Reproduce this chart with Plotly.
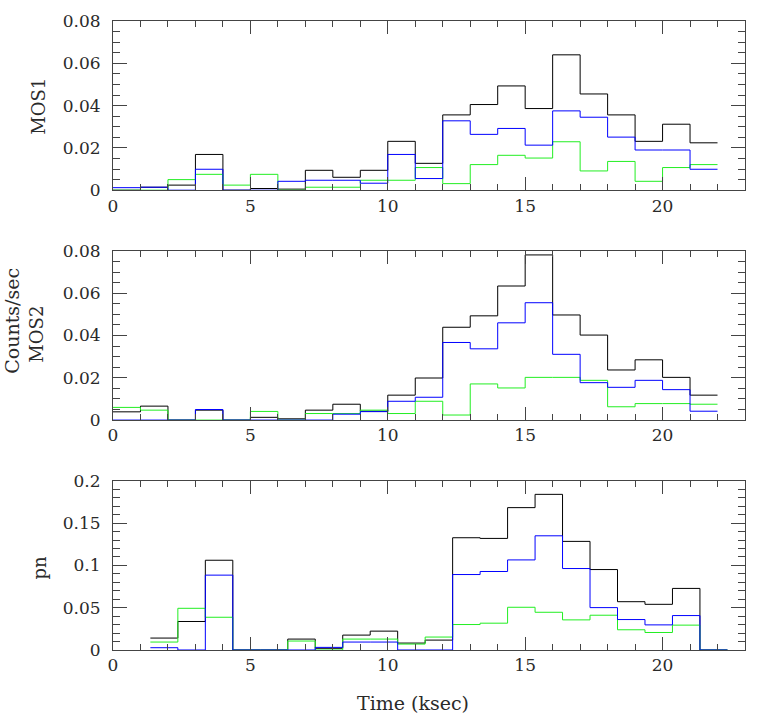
import plotly.graph_objects as go

# ---------------- data ----------------
mos_edges = list(range(0, 23))            # bins 0..22 ksec (width 1)
pn_edges = [k + 0.36 for k in range(1, 23)]  # bins 1.36..22.36 ksec

mos1_black = [0.0, 0.0014, 0.0024, 0.0169, 0.0, 0.0008, 0.0005, 0.0094, 0.0061, 0.0094, 0.0231,
              0.0127, 0.0356, 0.0405, 0.0493, 0.0386, 0.0640, 0.0455, 0.0356, 0.0231, 0.0312, 0.0224]
mos1_blue = [0.0012, 0.0014, 0.0, 0.0099, 0.0, 0.0, 0.0042, 0.0047, 0.0047, 0.0033, 0.0169,
             0.0055, 0.0328, 0.0264, 0.0292, 0.0213, 0.0375, 0.0345, 0.0251, 0.0190, 0.0190, 0.0099]
mos1_green = [0.0, 0.0, 0.0050, 0.0075, 0.0024, 0.0075, 0.0, 0.0014, 0.0014, 0.0047, 0.0047,
              0.0107, 0.0031, 0.0121, 0.0165, 0.0152, 0.0229, 0.0091, 0.0136, 0.0042, 0.0107, 0.0121]

mos2_black = [0.0039, 0.0066, 0.0, 0.0047, 0.0, 0.0013, 0.0006, 0.0047, 0.0075, 0.0042, 0.0118,
              0.0199, 0.0439, 0.0493, 0.0634, 0.0781, 0.0497, 0.0402, 0.0237, 0.0285, 0.0202, 0.0118]
mos2_blue = [0.0, 0.0, 0.0, 0.0050, 0.0, 0.0, 0.0, 0.0, 0.0028, 0.0040, 0.0089,
             0.0108, 0.0367, 0.0337, 0.0460, 0.0555, 0.0311, 0.0177, 0.0155, 0.0188, 0.0144, 0.0042]
mos2_green = [0.0060, 0.0047, 0.0, 0.0, 0.0, 0.0041, 0.0, 0.0031, 0.0031, 0.0047, 0.0031,
              0.0089, 0.0024, 0.0171, 0.0152, 0.0202, 0.0202, 0.0188, 0.0063, 0.0078, 0.0078, 0.0075]

pn_black = [0.0141, 0.0337, 0.1061, 0.0, 0.0, 0.0129, 0.0020, 0.0176, 0.0223, 0.0082, 0.0117,
            0.1327, 0.1319, 0.1683, 0.1840, 0.1284, 0.0951, 0.0571, 0.0540, 0.0728, 0.0]
pn_blue = [0.0027, 0.0, 0.0885, 0.0, 0.0, 0.0, 0.0031, 0.0094, 0.0094, 0.0, 0.0,
           0.0892, 0.0928, 0.1065, 0.1350, 0.0963, 0.0501, 0.0360, 0.0297, 0.0407, 0.0]
pn_green = [0.0094, 0.0493, 0.0387, 0.0, 0.0, 0.0106, 0.0, 0.0129, 0.0129, 0.0070, 0.0153,
            0.0301, 0.0317, 0.0505, 0.0446, 0.0356, 0.0411, 0.0239, 0.0207, 0.0294, 0.0]

panel_names = ["MOS1", "MOS2", "pn"]
x_ticks = [0, 5, 10, 15, 20]

# ---------------- figure ----------------
W, H = 757, 722
ML, MR, MT, MB = 113, 11, 18, 72
ph = H - MT - MB

def dom(top_px, bot_px):
    return [(H - MB - bot_px) / ph, (H - MB - top_px) / ph]

domains = [dom(18, 188), dom(249, 419), dom(480, 650)]

FONT = "DejaVu Serif"
AX = "#444444"
TXT = "#2a2a2a"
colors = {"black": "#000000", "blue": "#0000ff", "green": "#22ee22"}

fig = go.Figure()

panels = [
    (mos_edges, mos1_black, mos1_blue, mos1_green, [0, 0.08], 0.02, 0.005),
    (mos_edges, mos2_black, mos2_blue, mos2_green, [0, 0.08], 0.02, 0.005),
    (pn_edges, pn_black, pn_blue, pn_green, [0, 0.2], 0.05, 0.01),
]

for i, (edges, bk, bl, gr, yr, dt, mdt) in enumerate(panels):
    xa = "x" if i == 0 else f"x{i+1}"
    ya = "y" if i == 0 else f"y{i+1}"
    for vals, c in ((bk, "black"), (gr, "green"), (bl, "blue")):
        fig.add_trace(go.Scatter(
            x=edges, y=vals + [vals[-1]], mode="lines",
            line=dict(color=colors[c], width=1, shape="hv"),
            xaxis=xa, yaxis=ya, showlegend=False, hoverinfo="skip"))
    axkey = "xaxis" if i == 0 else f"xaxis{i+1}"
    aykey = "yaxis" if i == 0 else f"yaxis{i+1}"
    fig.layout[axkey] = dict(
        domain=[0, 1], anchor=ya, range=[0, 23], tickvals=x_ticks,
        ticks="inside", ticklen=13, tickwidth=1, tickcolor=AX,
        showline=True, linecolor=AX, linewidth=1, mirror="ticks",
        showgrid=False, zeroline=False, ticklabelstandoff=0,
        tickfont=dict(family=FONT, size=17, color=TXT),
        minor=dict(ticks="inside", ticklen=6, dtick=1, tickcolor=AX, showgrid=False),
    )
    fig.layout[aykey] = dict(
        domain=domains[i], anchor=xa, range=yr, dtick=dt, tick0=0,
        ticks="inside", ticklen=14, tickwidth=1, tickcolor=AX,
        showline=True, linecolor=AX, linewidth=1, mirror="ticks",
        showgrid=False, zeroline=False, ticklabelstandoff=8,
        tickfont=dict(family=FONT, size=17, color=TXT),
        minor=dict(ticks="inside", ticklen=7, dtick=mdt, tickcolor=AX, showgrid=False),
    )

# labels: page pixel positions converted to paper coords
def px(xp):
    return (xp - ML) / (W - ML - MR)
def py(yp):
    return (H - MB - yp) / ph

ann = []
label_pos = [(38, 104), (36, 333), (39, 567)]
for name, (lx, ly) in zip(panel_names, label_pos):
    ann.append(dict(text=name, x=px(lx), y=py(ly), xref="paper", yref="paper",
                    textangle=-90, showarrow=False, xanchor="center", yanchor="middle",
                    font=dict(family=FONT, size=18, color=TXT)))
ann.append(dict(text="Counts/sec", x=px(11), y=py(319), xref="paper", yref="paper",
                textangle=-90, showarrow=False, xanchor="center", yanchor="middle",
                font=dict(family=FONT, size=19, color=TXT)))
ann.append(dict(text="Time (ksec)", x=px(413), y=py(703), xref="paper", yref="paper",
                showarrow=False, xanchor="center", yanchor="middle",
                font=dict(family=FONT, size=19, color=TXT)))

fig.update_layout(
    width=W, height=H, margin=dict(l=ML, r=MR, t=MT, b=MB),
    paper_bgcolor="white", plot_bgcolor="white",
    annotations=ann, showlegend=False,
)

fig.write_html("out.html", config={"displayModeBar": False},
               post_script="document.body.style.margin='0px';")
